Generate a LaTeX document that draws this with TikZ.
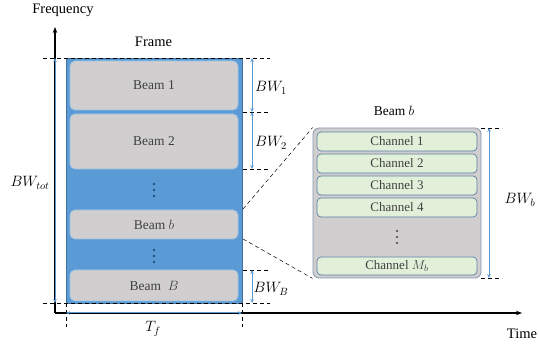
\RequirePackage{fix-cm}
\documentclass[tikz,border=0pt]{standalone}
\usepackage{fontspec}
\setmainfont{Liberation Serif}
\usetikzlibrary{arrows.meta}
\definecolor{frameblue}{HTML}{5B9BD5}
\definecolor{frameedge}{HTML}{41719C}
\definecolor{beamgray}{HTML}{D0CECE}
\definecolor{beamedge}{HTML}{9DC3E6}
\definecolor{chfill}{HTML}{E2F0D9}
\definecolor{chedge}{HTML}{5B7FA6}
\definecolor{zoomedge}{HTML}{8497B0}
\definecolor{txtgray}{HTML}{404040}
\definecolor{dotblue}{HTML}{1F4E79}
\tikzset{
  framebox/.style={draw=frameedge, fill=frameblue, line width=0.8pt, minimum width=176pt, minimum height=245pt, inner sep=0pt},
  beambox/.style={draw=beamedge, fill=beamgray, line width=0.7pt, rounded corners=5pt, minimum width=168pt, inner sep=0pt, text=txtgray, font=\fontsize{13.5}{16}\selectfont},
  zoombox/.style={draw=zoomedge, fill=beamgray, line width=0.8pt, rounded corners=6pt, minimum width=168pt, minimum height=150pt, inner sep=0pt},
  chbox/.style={draw=chedge, fill=chfill, line width=0.7pt, rounded corners=4pt, minimum width=160pt, minimum height=19pt, inner sep=0pt, text=txtgray, font=\fontsize{13}{15}\selectfont},
  dimarrow/.style={draw=frameblue, line width=1pt, {Stealth[length=4pt,width=3.5pt]}-{Stealth[length=4pt,width=3.5pt]}},
  guide/.style={draw=black, line width=0.5pt, dash pattern=on 4pt off 3pt},
  axis/.style={draw=black, line width=1.3pt, -{Stealth[length=6pt,width=4.5pt]}},
  lbl/.style={font=\fontsize{14.5}{17}\selectfont, inner sep=0pt},
  mlbl/.style={font=\fontsize{15}{18}\selectfont, inner sep=0pt},
}
\begin{document}
\begin{tikzpicture}[x=1pt,y=-1pt]
\useasboundingbox (0,0) rectangle (539,344);
% axes
\coordinate (O) at (55,313);
\coordinate (ytip) at (55,27);
\coordinate (xtip) at (522,313);
\draw[axis] (O) -- (ytip);
\draw[axis] (O) -- (xtip);
\node[lbl] (freq) at (63,10) {Frequency};
\node[lbl] (time) at (522,334) {Time};
% frame
\node[framebox] (frame) at (154,180.5) {};
\node[lbl] (frametitle) at (153.5,42) {Frame};
\node[beambox, minimum height=49pt] (b1) at (154,85.5) {Beam 1};
\node[beambox, minimum height=55pt] (b2) at (154,141.5) {Beam 2};
\node[beambox, minimum height=29pt] (bb) at (154,224.5) {Beam $b$};
\node[beambox, minimum height=31pt] (bB) at (154,285.5) {Beam\ \ $B$};
\foreach \y in {184,190,196,250,256,262} \fill[dotblue] (154,\y) circle (1.4pt);
% guides
\coordinate (gtl) at (43,58);
\coordinate (gtr) at (270,58);
\coordinate (gbl) at (43,303);
\coordinate (gbr) at (270,303);
\draw[guide] (gtl) -- (gtr);
\draw[guide] (gbl) -- (gbr);
\coordinate (g1a) at (243,112); \coordinate (g1b) at (268,112);
\coordinate (g2a) at (243,169); \coordinate (g2b) at (268,169);
\coordinate (g3a) at (243,270); \coordinate (g3b) at (268,270);
\draw[guide] (g1a) -- (g1b);
\draw[guide] (g2a) -- (g2b);
\draw[guide] (g3a) -- (g3b);
\coordinate (v1a) at (66,303); \coordinate (v1b) at (66,327);
\coordinate (v2a) at (242,303); \coordinate (v2b) at (242,327);
\draw[guide] (v1a) -- (v1b);
\draw[guide] (v2a) -- (v2b);
% dimension arrows
\coordinate (tot1) at (55,58); \coordinate (tot2) at (55,303);
\draw[dimarrow] (tot1) -- (tot2);
\node[mlbl] (bwtot) at (30,183) {$BW_{tot}$};
\coordinate (d1a) at (252,58); \coordinate (d1b) at (252,112);
\coordinate (d2a) at (252,112); \coordinate (d2b) at (252,169);
\coordinate (d3a) at (252,270); \coordinate (d3b) at (252,303);
\draw[dimarrow] (d1a) -- (d1b);
\draw[dimarrow] (d2a) -- (d2b);
\draw[dimarrow] (d3a) -- (d3b);
\node[mlbl] (bw1) at (271,88) {$BW_1$};
\node[mlbl] (bw2) at (271,143) {$BW_2$};
\node[mlbl] (bwB) at (271,289) {$BW_B$};
\coordinate (tfa) at (66,313); \coordinate (tfb) at (242,313);
\draw[dimarrow] (tfa) -- (tfb);
\node[mlbl] (tf) at (153,329) {$T_f$};
% zoomed beam
\node[zoombox] (zb) at (397,203) {};
\node[font=\fontsize{13.5}{16}\selectfont, inner sep=0pt] (zbtitle) at (394,111) {Beam $b$};
\node[chbox] (c1) at (397,141.5) {Channel 1};
\node[chbox] (c2) at (397,163.5) {Channel 2};
\node[chbox] (c3) at (397,185.5) {Channel 3};
\node[chbox] (c4) at (397,207.5) {Channel 4};
\node[chbox, minimum height=18pt] (cM) at (397,266) {Channel $M_b$};
\foreach \y in {231,237,243} \fill[txtgray] (397,\y) circle (1.2pt);
\coordinate (z1) at (481,128); \coordinate (z2) at (502,128);
\coordinate (z3) at (481,278); \coordinate (z4) at (502,278);
\draw[guide] (z1) -- (z2);
\draw[guide] (z3) -- (z4);
\coordinate (bwba) at (489,128); \coordinate (bwbb) at (489,278);
\draw[dimarrow] (bwba) -- (bwbb);
\node[mlbl] (bwb) at (520,200) {$BW_b$};
% zoom lines
\coordinate (s1) at (243,209); \coordinate (s2) at (243,239);
\draw[guide] (s1) -- (zb.north west);
\draw[guide] (s2) -- (zb.south west);
\end{tikzpicture}
\end{document}
